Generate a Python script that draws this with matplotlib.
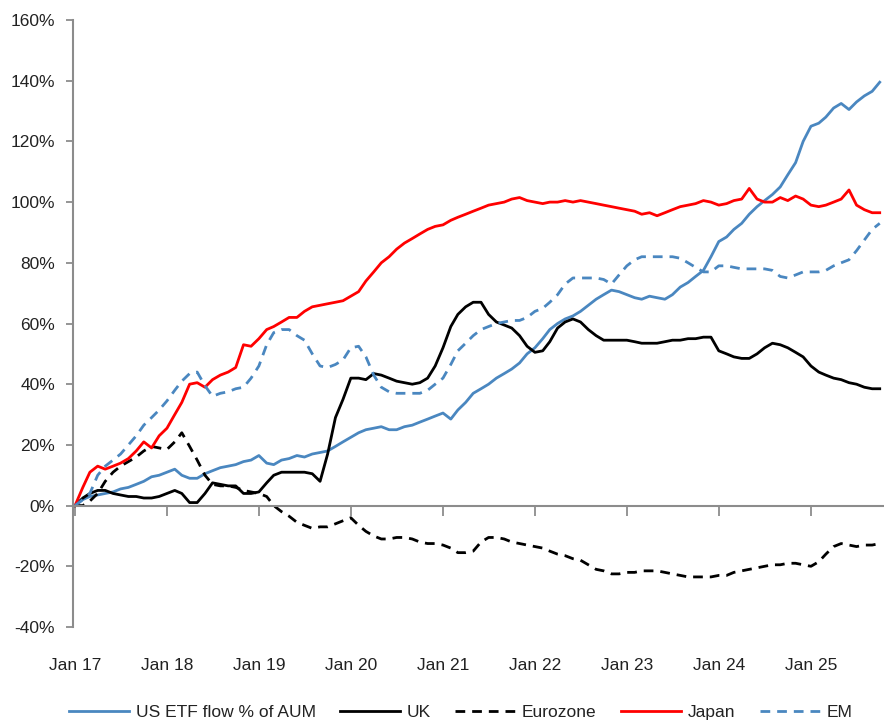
# ETF flows as % of AUM, cumulative since Jan 2017
import numpy as np
import pandas as pd
import matplotlib
matplotlib.use("Agg")
import matplotlib.pyplot as plt
import matplotlib.dates as mdates
from matplotlib.ticker import FuncFormatter

plt.rcParams['font.family'] = ['Liberation Sans', 'DejaVu Sans']

# monthly readings, Jan 2017 .. Oct 2025
dates = pd.date_range("2017-01-01", periods=106, freq="MS")

us_etf = [0, 2, 3, 3.5, 4, 4.5, 5.5, 6, 7, 8, 9.5, 10,
          11, 12, 10, 9, 9, 10.5, 11.5, 12.5, 13, 13.5, 14.5, 15,
          16.5, 14, 13.5, 15, 15.5, 16.5, 16, 17, 17.5, 18, 19.5, 21,
          22.5, 24, 25, 25.5, 26, 25, 25, 26, 26.5, 27.5, 28.5, 29.5,
          30.5, 28.5, 31.5, 34, 37, 38.5, 40, 42, 43.5, 45, 47, 50,
          52, 55, 58, 60, 61.5, 62.5, 64, 66, 68, 69.5, 71, 70.5,
          69.5, 68.5, 68, 69, 68.5, 68, 69.5, 72, 73.5, 75.5, 77.5, 82,
          87, 88.5, 91, 93, 96, 98.5, 100.5, 102.5, 105, 109, 113, 120,
          125, 126, 128, 131, 132.5, 130.5, 133, 135, 136.5, 139.5]

uk = [0, 2.5, 4, 5, 5, 4, 3.5, 3, 3, 2.5, 2.5, 3,
      4, 5, 4, 1, 1, 4, 7.5, 7, 6.5, 6.5, 4, 4,
      4.5, 7.5, 10, 11, 11, 11, 11, 10.5, 8, 17, 29, 35,
      42, 42, 41.5, 43.5, 43, 42, 41, 40.5, 40, 40.5, 42, 46,
      52, 59, 63, 65.5, 67, 67, 63, 60.5, 59.5, 58.5, 56, 52.5,
      50.5, 51, 54, 58.5, 60.5, 61.5, 60.5, 58, 56, 54.5, 54.5, 54.5,
      54.5, 54, 53.5, 53.5, 53.5, 54, 54.5, 54.5, 55, 55, 55.5, 55.5,
      51, 50, 49, 48.5, 48.5, 50, 52, 53.5, 53, 52, 50.5, 49,
      46, 44, 43, 42, 41.5, 40.5, 40, 39, 38.5, 38.5]

eurozone = [0, 0, 1.5, 4, 8, 11, 13, 14.5, 16, 18, 19.5, 19,
            18.5, 21, 24, 19.5, 15, 10, 7, 6.5, 6.5, 6, 5, 4.5,
            4, 3, 0, -2, -3.5, -5.5, -6.5, -7.5, -7, -7, -6, -5,
            -4, -6.5, -8.5, -10, -11, -11, -10.5, -10.5, -11, -12, -12.5, -12.5,
            -13, -14, -15.5, -15.5, -15, -12, -10.5, -10.5, -11, -12, -12.5, -13,
            -13.5, -14, -15, -16, -16.5, -17.5, -18, -19.5, -21, -21.5, -22.5, -22.5,
            -22, -22, -21.5, -21.5, -21.5, -22, -22.5, -23, -23.5, -23.5, -23.5, -23.5,
            -23, -23, -22, -21.5, -21, -20.5, -20, -19.5, -19.5, -19, -19, -19.5,
            -20, -18.5, -16, -13.5, -12.5, -13, -13.5, -13, -13, -12.5]

japan = [0, 6, 11, 13, 12, 13, 14, 15.5, 18, 21, 19, 23,
         25.5, 30, 34, 40, 40.5, 39, 41.5, 43, 44, 45.5, 53, 52.5,
         55, 58, 59, 60.5, 62, 62, 64, 65.5, 66, 66.5, 67, 67.5,
         69, 70.5, 74, 77, 80, 82, 84.5, 86.5, 88, 89.5, 91, 92,
         92.5, 94, 95, 96, 97, 98, 99, 99.5, 100, 101, 101.5, 100.5,
         100, 99.5, 100, 100, 100.5, 100, 100.5, 100, 99.5, 99, 98.5, 98,
         97.5, 97, 96, 96.5, 95.5, 96.5, 97.5, 98.5, 99, 99.5, 100.5, 100,
         99, 99.5, 100.5, 101, 104.5, 101, 100, 100, 101.5, 100.5, 102, 101,
         99, 98.5, 99, 100, 101, 104, 99, 97.5, 96.5, 96.5]

em = [0, 2, 4, 10, 13, 15, 17, 20, 23, 26.5, 29, 31.5,
      34.5, 38, 41, 43.5, 44, 39.5, 36, 37, 37.5, 38.5, 39, 42,
      46, 53, 57, 58, 58, 56, 54.5, 50, 46, 45.5, 46.5, 48,
      52, 52.5, 49, 43, 39, 37.5, 37, 37, 37, 37, 38, 40,
      42, 46.5, 51, 53.5, 56, 58, 59, 60, 60.5, 61, 61, 62,
      64, 65, 67, 69.5, 73, 75, 75, 75, 75, 74.5, 73, 76,
      79, 81, 82, 82, 82, 82, 82, 81.5, 80, 78.5, 77, 77,
      79, 79, 78.5, 78, 78, 78, 78, 77.5, 75.5, 75, 76, 77,
      77, 77, 77.5, 79, 80, 81, 84, 87.5, 91, 93]

blue = '#4a87c0'
fig = plt.figure(figsize=(8.84, 7.24), dpi=100)
ax = fig.add_axes([73 / 884, 97 / 724, 811 / 884, 607 / 724])

lw = 2.0
ax.plot(dates, us_etf, color=blue, lw=lw, label='US ETF flow % of AUM')
ax.plot(dates, uk, color='black', lw=lw, label='UK')
ax.plot(dates, eurozone, color='black', lw=lw, ls=(0, (3.5, 2.5)), label='Eurozone')
ax.plot(dates, japan, color='red', lw=lw, label='Japan')
ax.plot(dates, em, color=blue, lw=lw, ls=(0, (3.5, 2.5)), label='EM')

ax.set_ylim(-40, 160)
ax.set_yticks(np.arange(-40, 161, 20))
ax.yaxis.set_major_formatter(FuncFormatter(lambda v, p: f'{v:.0f}%'))
ax.set_xlim(pd.Timestamp('2016-12-24'), pd.Timestamp('2025-10-18'))
ax.xaxis.set_major_locator(mdates.YearLocator())
ax.xaxis.set_major_formatter(mdates.DateFormatter('Jan %y'))

for s in ['top', 'right']:
    ax.spines[s].set_visible(False)
ax.spines['bottom'].set_position(('data', 0))
for s in ['left', 'bottom']:
    ax.spines[s].set_color('#8c8c8c')
    ax.spines[s].set_linewidth(1.5)

txt = '#222222'
fs = 12.5
ax.tick_params(axis='y', direction='out', length=5, width=1.3, color='#8c8c8c',
               labelsize=fs, labelcolor=txt, pad=8)
ax.tick_params(axis='x', direction='out', length=7, width=1.3, color='#8c8c8c',
               labelsize=fs, labelcolor=txt, pad=103)

fig.legend(loc='center', bbox_to_anchor=(0.521, 1 - 712 / 724), ncol=5,
           frameon=False, fontsize=fs, labelcolor=txt, handlelength=3.45,
           handletextpad=0.4, columnspacing=1.4, borderaxespad=0)

fig.savefig('out.png', dpi=100)
